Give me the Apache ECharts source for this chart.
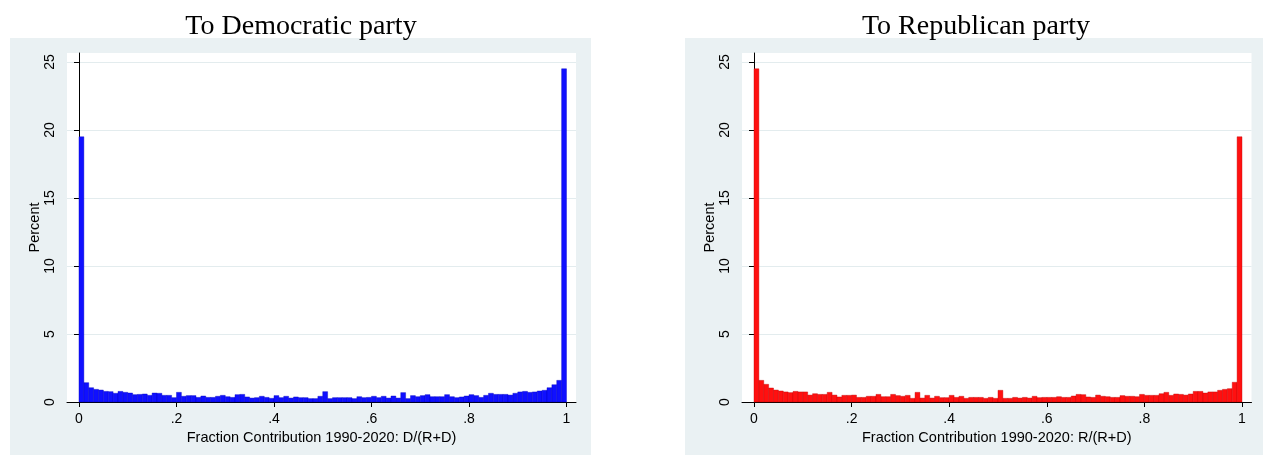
<!DOCTYPE html>
<html>
<head>
<meta charset="utf-8">
<title>Fraction contribution histograms</title>
<script src="https://cdn.jsdelivr.net/npm/echarts@6/dist/echarts.min.js"></script>
<style>
  html, body { margin: 0; padding: 0; background: #fff; }
  #chart { width: 1263px; height: 455px; }
</style>
</head>
<body>
<div id="chart"></div>
<script>
// histogram, 100 bins over [0, 1], percent of donors per bin
const binCount = 100
const binWidth = 0.01

const demPercent = [
  19.5, 1.42, 1.05, 0.93, 0.88, 0.78, 0.76, 0.64, 0.78, 0.71,
  0.66, 0.54, 0.56, 0.59, 0.49, 0.66, 0.64, 0.49, 0.49, 0.32,
  0.71, 0.42, 0.47, 0.47, 0.34, 0.44, 0.34, 0.34, 0.42, 0.49,
  0.39, 0.34, 0.54, 0.56, 0.37, 0.29, 0.32, 0.42, 0.34, 0.27,
  0.47, 0.32, 0.42, 0.29, 0.37, 0.32, 0.32, 0.25, 0.25, 0.42,
  0.76, 0.25, 0.32, 0.32, 0.32, 0.32, 0.25, 0.39, 0.32, 0.34,
  0.42, 0.32, 0.42, 0.29, 0.44, 0.29, 0.69, 0.25, 0.47, 0.39,
  0.47, 0.54, 0.39, 0.39, 0.39, 0.54, 0.39, 0.32, 0.37, 0.44,
  0.54, 0.47, 0.34, 0.49, 0.64, 0.56, 0.56, 0.56, 0.51, 0.64,
  0.74, 0.78, 0.71, 0.74, 0.81, 0.86, 1.05, 1.27, 1.59, 24.5
]

const repPercent = [
  24.5, 1.59, 1.30, 1.03, 0.88, 0.81, 0.74, 0.69, 0.78, 0.74,
  0.74, 0.51, 0.61, 0.56, 0.56, 0.71, 0.51, 0.37, 0.49, 0.49,
  0.51, 0.34, 0.34, 0.42, 0.42, 0.56, 0.39, 0.39, 0.56, 0.47,
  0.42, 0.49, 0.27, 0.71, 0.29, 0.49, 0.29, 0.42, 0.32, 0.32,
  0.49, 0.34, 0.42, 0.27, 0.34, 0.34, 0.34, 0.27, 0.34, 0.27,
  0.86, 0.27, 0.27, 0.34, 0.29, 0.34, 0.29, 0.42, 0.32, 0.34,
  0.34, 0.34, 0.39, 0.34, 0.34, 0.44, 0.56, 0.54, 0.37, 0.34,
  0.51, 0.42, 0.39, 0.34, 0.34, 0.47, 0.42, 0.42, 0.39, 0.56,
  0.49, 0.49, 0.49, 0.61, 0.71, 0.49, 0.59, 0.56, 0.51, 0.59,
  0.78, 0.78, 0.66, 0.74, 0.74, 0.86, 0.93, 0.98, 1.45, 19.5
]

const panelTitles = ['To Democratic party', 'To Republican party']
const xAxisNames = ['Fraction Contribution 1990-2020: D/(R+D)', 'Fraction Contribution 1990-2020: R/(R+D)']
const xTicks = [0, 0.2, 0.4, 0.6, 0.8, 1]
const yTicks = [0, 5, 10, 15, 20, 25]
const barColors = ['#1010ff', '#ff1010']
const barEdges = ['#0000c0', '#c00000']

const toBins = (values) => values.map((v, i) => [i * binWidth, (i + 1) * binWidth, v])

const panelBg = '#eaf1f3'
const gridLineColor = '#e3ecee'
const sansFont = '"Liberation Sans", Arial, sans-serif'
const serifFont = '"Liberation Serif", "Times New Roman", serif'

const grids = [
  { left: 67, top: 53, width: 509, height: 349 },
  { left: 742, top: 53, width: 509.5, height: 349 }
]

const xAxisFor = (idx) => ({
  type: 'value',
  gridIndex: idx,
  min: -0.0246,
  max: 1.0195,
  name: xAxisNames[idx],
  nameLocation: 'middle',
  nameGap: 24,
  nameTextStyle: { fontFamily: sansFont, fontSize: 14.5, color: '#000' },
  axisLine: { onZero: false, lineStyle: { color: '#000', width: 1 } },
  axisTick: { customValues: xTicks, length: 5, lineStyle: { color: '#000' } },
  axisLabel: {
    customValues: xTicks,
    margin: 10,
    fontFamily: sansFont,
    fontSize: 14,
    color: '#000',
    formatter: (v) => (v === 0 ? '0' : v === 1 ? '1' : String(v).replace(/^0/, ''))
  },
  splitLine: { show: false }
})

const yAxisFor = (idx) => ({
  type: 'value',
  gridIndex: idx,
  min: 0,
  max: 25.66,
  name: 'Percent',
  nameLocation: 'middle',
  nameGap: 25,
  nameTextStyle: { fontFamily: sansFont, fontSize: 14.5, color: '#000' },
  axisLine: { show: true, lineStyle: { color: '#000', width: 1 } },
  axisTick: { show: true, customValues: yTicks, length: 5, lineStyle: { color: '#000' } },
  axisLabel: {
    customValues: yTicks,
    rotate: 90,
    margin: 10,
    fontFamily: sansFont,
    fontSize: 14,
    color: '#000'
  },
  splitLine: { show: true, lineStyle: { color: gridLineColor, width: 1 } }
})

const histSeries = (idx, values) => ({
  type: 'custom',
  xAxisIndex: idx,
  yAxisIndex: idx,
  data: toBins(values),
  encode: { x: [0, 1], y: 2 },
  renderItem: (params, api) => {
    const topLeft = api.coord([api.value(0), api.value(2)])
    const bottomRight = api.coord([api.value(1), 0])
    return {
      type: 'rect',
      shape: {
        x: topLeft[0],
        y: topLeft[1],
        width: bottomRight[0] - topLeft[0],
        height: bottomRight[1] - topLeft[1]
      },
      style: { fill: barColors[idx], stroke: barEdges[idx], lineWidth: 0.4 }
    }
  }
})

const chart = echarts.init(document.getElementById('chart'))

chart.setOption({
  animation: false,
  backgroundColor: '#fff',
  title: panelTitles.map((text, i) => ({
    text,
    left: i === 0 ? 296 : 971,
    top: 8,
    textAlign: 'center',
    textStyle: { fontFamily: serifFont, fontSize: 28, fontWeight: 'normal', color: '#000' }
  })),
  graphic: [
    { type: 'rect', z: -10, shape: { x: 10, y: 38, width: 581, height: 417 }, style: { fill: panelBg } },
    { type: 'rect', z: -10, shape: { x: 685, y: 38, width: 578, height: 417 }, style: { fill: panelBg } }
  ],
  grid: grids.map((g) => ({ ...g, show: true, backgroundColor: '#fff', borderWidth: 0 })),
  xAxis: [xAxisFor(0), xAxisFor(1)],
  yAxis: [yAxisFor(0), yAxisFor(1)],
  series: [histSeries(0, demPercent), histSeries(1, repPercent)]
})
</script>
</body>
</html>
